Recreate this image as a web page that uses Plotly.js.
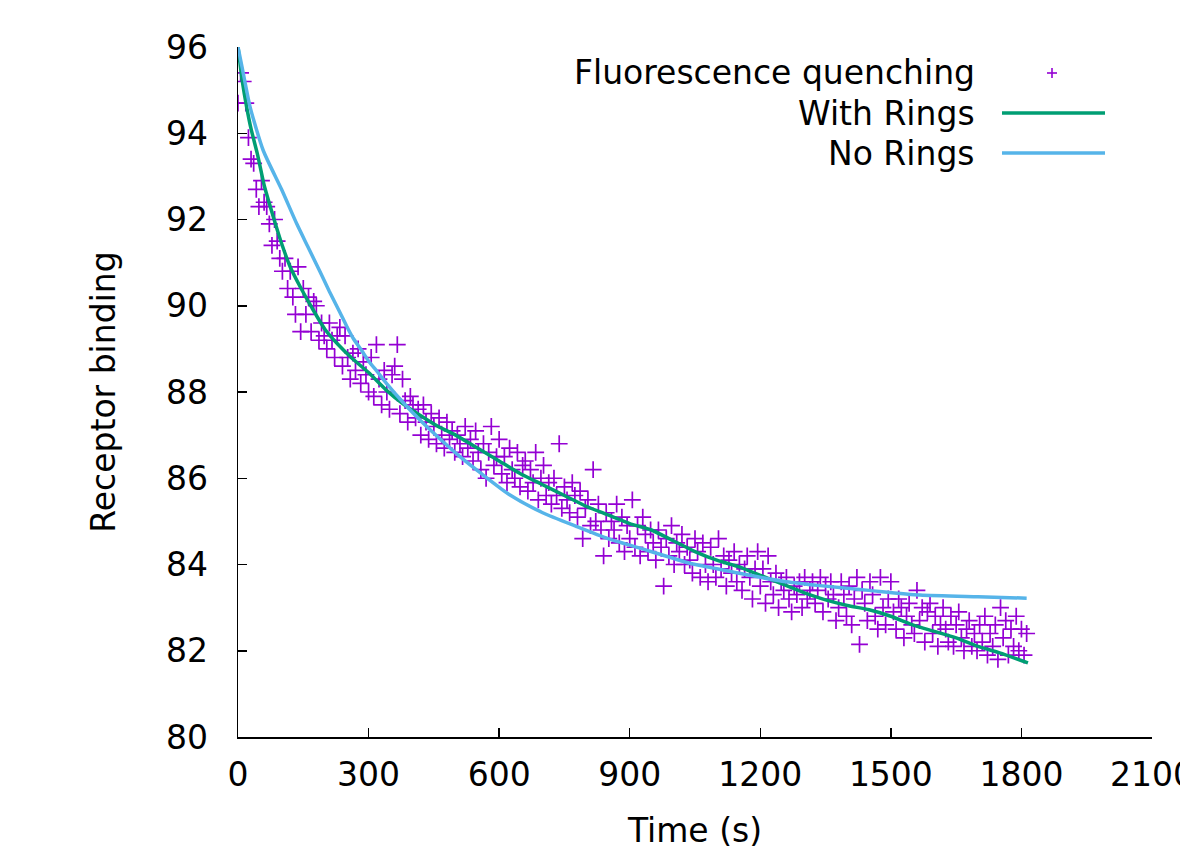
<!DOCTYPE html>
<html>
<head>
<meta charset="utf-8">
<script src="https://cdn.plot.ly/plotly-3.0.1.min.js"></script>
<style>html,body{margin:0;padding:0;background:#fff;}#chart{width:1180px;height:851px;}</style>
</head>
<body>
<div id="chart"></div>
<script>
// ---- Data ----
const seriesNames = ["Fluorescence quenching", "With Rings", "No Rings"];

// Fluorescence quenching: one reading every 6 s from 0 to 1812 s
const quenchStart = 0, quenchStep = 6;
const quenchValues = [
  94.7, 95.4, 95.2, 94.7, 93.9, 93.4, 93.3, 92.7, 92.3, 92.9,
  92.4, 92.3, 91.9, 91.4, 92.0, 91.5, 91.1, 90.8, 91.1, 90.4,
  90.8, 90.2, 89.8, 90.9, 89.4, 90.4, 89.8, 90.2, 89.4, 90.1,
  90.0, 89.2, 89.6, 89.3, 89.0, 89.6, 89.2, 88.8, 89.3, 89.5,
  88.6, 89.3, 88.8, 88.3, 88.9, 88.5, 89.0, 88.2, 88.7, 88.4,
  88.0, 88.8, 87.9, 89.1, 88.3, 87.7, 88.5, 88.0, 87.6, 88.4,
  88.6, 89.1, 87.5, 88.3, 87.8, 87.3, 87.9, 87.7, 87.4, 87.6,
  87.0, 87.7, 87.3, 86.9, 87.5, 87.2, 86.8, 87.4, 87.0, 86.7,
  87.3, 86.9, 87.1, 86.6, 87.0, 86.8, 86.5, 87.2, 86.7, 86.9,
  86.4, 87.1, 86.6, 86.2, 86.8, 86.0, 86.6, 87.2, 86.3, 86.5,
  86.9, 86.1, 86.5, 85.9, 86.7, 86.2, 86.0, 86.6, 85.8, 86.3,
  86.4, 85.7, 86.2, 85.9, 86.6, 85.5, 86.0, 86.3, 85.6, 85.9,
  85.4, 86.0, 85.6, 86.8, 85.3, 85.8, 85.5, 85.2, 85.9, 85.6,
  85.1, 85.7, 84.6, 85.3, 85.5, 84.9, 86.2, 85.0, 85.4, 84.8,
  84.2, 85.2, 84.6, 85.0, 84.8, 85.4, 84.5, 85.1, 84.3, 84.9,
  84.6, 85.5, 84.4, 84.9, 84.2, 85.1, 84.7, 84.3, 84.8, 84.5,
  84.1, 84.8, 84.4, 83.5, 84.6, 84.2, 84.9, 84.0, 84.5, 84.3,
  84.7, 84.0, 84.4, 84.1, 83.8, 84.6, 84.3, 83.7, 84.5, 84.0,
  83.6, 84.4, 84.0, 83.7, 84.6, 83.9, 84.2, 83.5, 84.1, 83.8,
  84.3, 83.6, 84.0, 83.4, 83.9, 84.2, 83.7, 83.2, 83.9, 84.3,
  83.5, 83.9, 83.1, 84.2, 83.6, 83.3, 83.8, 83.0, 83.6, 83.4,
  83.7, 83.2, 82.9, 83.5, 83.3, 83.6, 83.0, 83.7, 83.2, 83.4,
  83.6, 83.1, 83.4, 83.7, 82.9, 83.5, 83.2, 83.6, 83.3, 82.7,
  83.0, 83.6, 83.3, 82.8, 83.5, 82.6, 83.2, 83.7, 82.15, 83.4,
  83.1, 82.7, 83.6, 83.3, 82.8, 82.5, 83.7, 83.0, 82.6, 83.2,
  83.6, 82.9, 82.5, 83.2, 83.0, 82.3, 82.8, 83.1, 82.6, 82.4,
  83.4, 82.7, 83.0, 82.2, 82.9, 83.1, 82.4, 82.8, 82.1, 82.6,
  83.0, 82.5, 82.2, 82.8, 82.1, 82.6, 82.9, 82.3, 82.0, 82.5,
  82.7, 82.1, 82.4, 82.0, 82.6, 82.2, 82.8, 81.9, 82.4, 82.1,
  82.6, 81.8, 83.0, 82.3, 82.7, 81.9, 82.5, 82.1, 82.8, 82.0,
  82.5, 81.9, 82.4
];
const quenchTimes = quenchValues.map((_, i) => quenchStart + i * quenchStep);

// With Rings model curve
const ringsTimes = [0, 10, 20, 30, 45, 60, 80, 100, 120, 145, 170, 200, 230, 260, 300, 340, 380, 420, 460, 500,
  550, 600, 650, 700, 750, 800, 850, 900, 950, 1000, 1050, 1100, 1150, 1200, 1250, 1300, 1350, 1400, 1450, 1500,
  1550, 1600, 1650, 1700, 1750, 1815];
const ringsValues = [96.0, 95.2, 94.6, 94.1, 93.5, 92.8, 92.1, 91.45, 90.9, 90.4, 89.95, 89.45, 89.1, 88.8, 88.45, 88.05, 87.72, 87.45, 87.2, 87.0,
  86.7, 86.4, 86.1, 85.85, 85.6, 85.35, 85.15, 84.95, 84.8, 84.55, 84.3, 84.1, 83.95, 83.75, 83.55, 83.35, 83.18, 83.05, 82.95, 82.8,
  82.6, 82.45, 82.3, 82.1, 81.95, 81.72];

// No Rings model curve
const noRingsTimes = [0, 10, 28, 58, 100, 135, 160, 188, 210, 234, 250, 265, 285, 300, 320, 341, 380, 418, 460, 510,
  560, 625, 700, 778, 850, 923, 1038, 1100, 1191, 1260, 1337, 1450, 1567, 1700, 1812];
const noRingsValues = [96.0, 95.5, 94.6, 93.6, 92.7, 91.9, 91.38, 90.8, 90.33, 89.85, 89.52, 89.24, 88.95, 88.72, 88.47, 88.2, 87.75, 87.35, 86.95, 86.5,
  86.1, 85.61, 85.2, 84.88, 84.6, 84.38, 84.03, 83.9, 83.72, 83.6, 83.51, 83.4, 83.29, 83.25, 83.22];

const xTickVals = [0, 300, 600, 900, 1200, 1500, 1800, 2100];
const yTickVals = [80, 82, 84, 86, 88, 90, 92, 94, 96];

// ---- Styles ----
const purple = "#9400d3", green = "#009e73", blue = "#56b4e9";
const FONT = "DejaVu Sans, Verdana, sans-serif";
const FS = 33;
const W = 1180, H = 851;
const M = {l: 238, r: 28, t: 47, b: 114};
const plotW = W - M.l - M.r, plotH = H - M.t - M.b;
const px = x => (x - M.l) / plotW;
const py = y => (H - M.b - y) / plotH;

const traces = [
  {x: quenchTimes, y: quenchValues, type: "scatter", mode: "markers", name: seriesNames[0],
   marker: {symbol: "cross-thin", size: 12, color: purple, line: {color: purple, width: 1.7}}},
  {x: ringsTimes, y: ringsValues, type: "scatter", mode: "lines", name: seriesNames[1],
   line: {color: green, width: 3.5, shape: "spline", smoothing: 0.6}},
  {x: noRingsTimes, y: noRingsValues, type: "scatter", mode: "lines", name: seriesNames[2],
   line: {color: blue, width: 3.5, shape: "spline", smoothing: 0.6}}
];

// gnuplot-style key (text right-aligned, sample on the right)
const keyRows = [73, 113, 153];
const annotations = seriesNames.map((n, i) => ({
  text: n, xref: "paper", yref: "paper", x: px(977), y: py(keyRows[i]),
  xanchor: "right", yanchor: "middle", showarrow: false,
  font: {family: FONT, size: FS, color: "#000"}
}));
const shapes = [
  {type: "line", xref: "paper", yref: "paper", x0: px(1002), x1: px(1105), y0: py(keyRows[1]), y1: py(keyRows[1]), line: {color: green, width: 3.5}},
  {type: "line", xref: "paper", yref: "paper", x0: px(1002), x1: px(1105), y0: py(keyRows[2]), y1: py(keyRows[2]), line: {color: blue, width: 3.5}},
  {type: "line", xref: "paper", yref: "paper", x0: px(1047), x1: px(1057), y0: py(keyRows[0]), y1: py(keyRows[0]), line: {color: purple, width: 1.6}},
  {type: "line", xref: "paper", yref: "paper", x0: px(1052), x1: px(1052), y0: py(keyRows[0] - 5), y1: py(keyRows[0] + 5), line: {color: purple, width: 1.6}}
];

const layout = {
  width: W, height: H, margin: M,
  paper_bgcolor: "#fff", plot_bgcolor: "#fff",
  showlegend: false,
  font: {family: FONT, size: FS, color: "#000"},
  xaxis: {
    range: [0, 2100], tickvals: xTickVals, ticktext: xTickVals.map(String),
    ticks: "inside", ticklen: 9, tickwidth: 1.5, tickcolor: "#000",
    showline: true, linecolor: "#000", linewidth: 1.5, mirror: false,
    showgrid: false, zeroline: false, ticklabelstandoff: 8,
    ticklabeloverflow: "allow",
    tickfont: {family: FONT, size: FS, color: "#000"},
    title: {text: "Time (s)", font: {family: FONT, size: FS, color: "#000"}, standoff: 26},
    automargin: false
  },
  yaxis: {
    range: [80, 96], tickvals: yTickVals, ticktext: yTickVals.map(String),
    ticks: "inside", ticklen: 9, tickwidth: 1.5, tickcolor: "#000",
    showline: true, linecolor: "#000", linewidth: 1.5, mirror: false,
    showgrid: false, zeroline: false, ticklabelstandoff: 22,
    ticklabeloverflow: "allow",
    tickfont: {family: FONT, size: FS, color: "#000"},
    title: {text: "Receptor binding", font: {family: FONT, size: FS, color: "#000"}, standoff: 40},
    automargin: false
  },
  annotations: annotations,
  shapes: shapes
};

Plotly.newPlot("chart", traces, layout, {displayModeBar: false, staticPlot: true});
</script>
</body>
</html>
